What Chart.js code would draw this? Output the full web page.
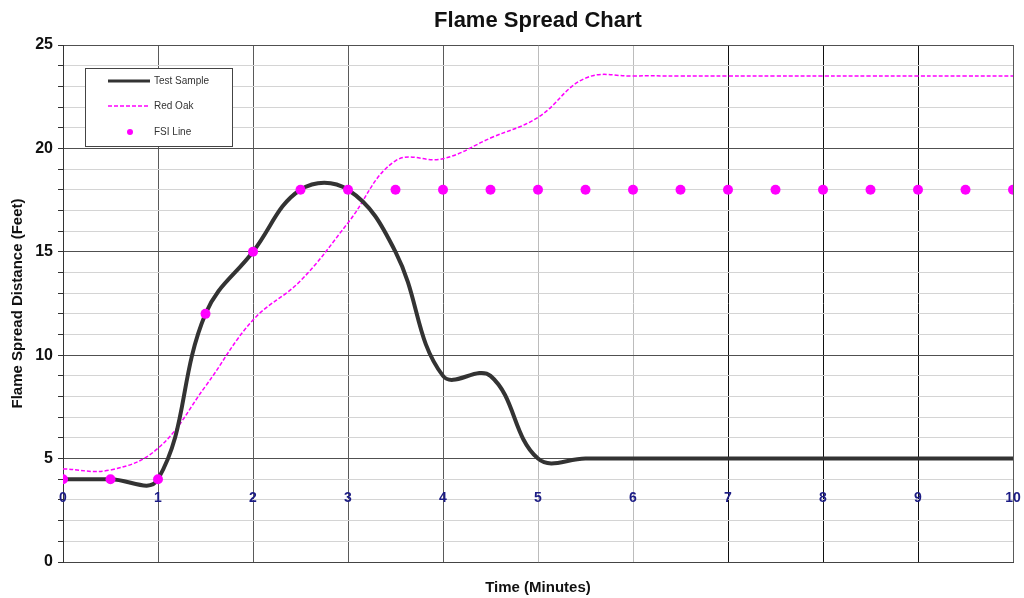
<!DOCTYPE html>
<html>
<head>
<meta charset="utf-8">
<script src="https://cdn.jsdelivr.net/npm/chart.js@4/dist/chart.umd.min.js"></script>
<style>
html,body{margin:0;padding:0;background:#fff;}
#wrap{width:1024px;height:598px;position:relative;}
</style>
</head>
<body>
<div id="wrap"><canvas id="c" width="1024" height="598"></canvas></div>
<script>
const chartTitle = 'Flame Spread Chart';
const xTitle = 'Time (Minutes)';
const yTitle = 'Flame Spread Distance (Feet)';
const times = [0,0.5,1,1.5,2,2.5,3,3.5,4,4.5,5,5.5,6,6.5,7,7.5,8,8.5,9,9.5,10];
const testSample = [4,4,4,12,15,18,18,15,9,9,5,5,5,5,5,5,5,5,5,5,5];
const redOak = [4.5,4.45,5.5,8.5,11.7,13.6,16.4,19.4,19.5,20.5,21.5,23.4,23.5,23.5,23.5,23.5,23.5,23.5,23.5,23.5,23.5];
const fsiLine = [4,4,4,12,15,18,18,18,18,18,18,18,18,18,18,18,18,18,18,18,18];
const xTickLabels = ['0','1','2','3','4','5','6','7','8','9','10'];
const yTickLabels = ['0','5','10','15','20','25'];
const seriesNames = ['Test Sample','Red Oak','FSI Line'];

const FONT = '"Liberation Sans", Arial, sans-serif';
const toXY = arr => times.map((t, i) => ({x: t, y: arr[i]}));

const overlay = {
  id: 'overlay',
  afterDraw(chart) {
    const ctx = chart.ctx;
    const ca = chart.chartArea;
    const xs = chart.scales.x, ys = chart.scales.y;
    ctx.save();
    // Title
    ctx.fillStyle = '#111';
    ctx.font = 'bold 22px ' + FONT;
    ctx.textAlign = 'center';
    ctx.textBaseline = 'middle';
    ctx.fillText(chartTitle, (ca.left + ca.right) / 2, 21);
    // X tick labels inside plot
    ctx.fillStyle = '#1c1c85';
    ctx.font = 'bold 14px ' + FONT;
    const ly = ys.getPixelForValue(3) - 2;
    xTickLabels.forEach((lab) => {
      ctx.fillText(lab, xs.getPixelForValue(Number(lab)), ly);
    });
    // Legend
    const lx = 85, lt = 68, lw = 147, lh = 78;
    ctx.fillStyle = '#fff';
    ctx.fillRect(lx, lt, lw, lh);
    ctx.strokeStyle = '#444';
    ctx.lineWidth = 1;
    ctx.strokeRect(lx + 0.5, lt + 0.5, lw, lh);
    const ds = chart.data.datasets;
    ctx.font = '10px ' + FONT;
    ctx.textAlign = 'left';
    ctx.textBaseline = 'middle';
    const rows = [81, 106, 132];
    ctx.strokeStyle = ds[0].borderColor; ctx.lineWidth = 3; ctx.setLineDash([]);
    ctx.beginPath(); ctx.moveTo(108, rows[0]); ctx.lineTo(150, rows[0]); ctx.stroke();
    ctx.strokeStyle = ds[1].borderColor; ctx.lineWidth = 1.5; ctx.setLineDash(ds[1].borderDash);
    ctx.beginPath(); ctx.moveTo(108, rows[1]); ctx.lineTo(150, rows[1]); ctx.stroke();
    ctx.setLineDash([]);
    ctx.fillStyle = ds[2].pointBackgroundColor;
    ctx.beginPath(); ctx.arc(130, rows[2], 3, 0, Math.PI * 2); ctx.fill();
    ctx.fillStyle = '#333';
    seriesNames.forEach((n, i) => ctx.fillText(n, 154, rows[i]));
    ctx.restore();
  }
};

new Chart(document.getElementById('c'), {
  type: 'line',
  data: {
    datasets: [
      {
        label: seriesNames[0],
        data: toXY(testSample),
        borderColor: '#333333',
        borderWidth: 4,
        pointRadius: 0,
        tension: 0.4,
        fill: false,
        order: 1
      },
      {
        label: seriesNames[1],
        data: toXY(redOak),
        borderColor: '#ff00ff',
        borderWidth: 1.5,
        borderDash: [4, 2],
        pointRadius: 0,
        tension: 0.4,
        fill: false,
        order: 2
      },
      {
        label: seriesNames[2],
        data: toXY(fsiLine),
        showLine: false,
        pointRadius: 5,
        pointBackgroundColor: '#ff00ff',
        pointBorderColor: '#ff00ff',
        pointBorderWidth: 0,
        borderColor: '#ff00ff',
        order: 0
      }
    ]
  },
  options: {
    responsive: false,
    animation: false,
    events: [],
    layout: { padding: { top: 45, right: 11, left: 0, bottom: 0 } },
    plugins: {
      legend: { display: false },
      title: { display: false },
      tooltip: { enabled: false }
    },
    scales: {
      x: {
        type: 'linear',
        min: 0, max: 10,
        afterFit(s) { s.height = 36; },
        ticks: { display: false, stepSize: 1, autoSkip: false },
        grid: {
          drawTicks: false,
          lineWidth: 1,
          color(ctx) {
            const v = ctx.tick ? ctx.tick.value : 0;
            if (v === 5 || v === 6) return '#bcbcbc';
            if (v >= 7 && v <= 9) return '#111111';
            return '#5a5a5a';
          }
        },
        border: { color: '#444', width: 1 },
        title: {
          display: true,
          text: xTitle,
          color: '#111',
          font: { family: FONT, size: 15, weight: 'bold' },
          padding: { top: 0, bottom: 1 }
        }
      },
      y: {
        min: 0, max: 25,
        afterFit(s) { s.width = 63; },
        ticks: {
          stepSize: 1,
          autoSkip: false,
          padding: 5,
          color: '#111',
          font: { family: FONT, size: 16, weight: 'bold' },
          callback(v) {
            const s = String(v);
            return yTickLabels.includes(s) ? s : '';
          }
        },
        grid: {
          tickLength: 5,
          tickColor: '#333',
          lineWidth: 1,
          color(ctx) {
            const v = ctx.tick ? ctx.tick.value : 0;
            return v % 5 === 0 ? '#505050' : '#d4d4d4';
          }
        },
        border: { color: '#333', width: 1 },
        title: {
          display: true,
          text: yTitle,
          color: '#111',
          font: { family: FONT, size: 15, weight: 'bold' },
          padding: { top: 9, bottom: 0 }
        }
      }
    }
  },
  plugins: [overlay]
});
</script>
</body>
</html>
